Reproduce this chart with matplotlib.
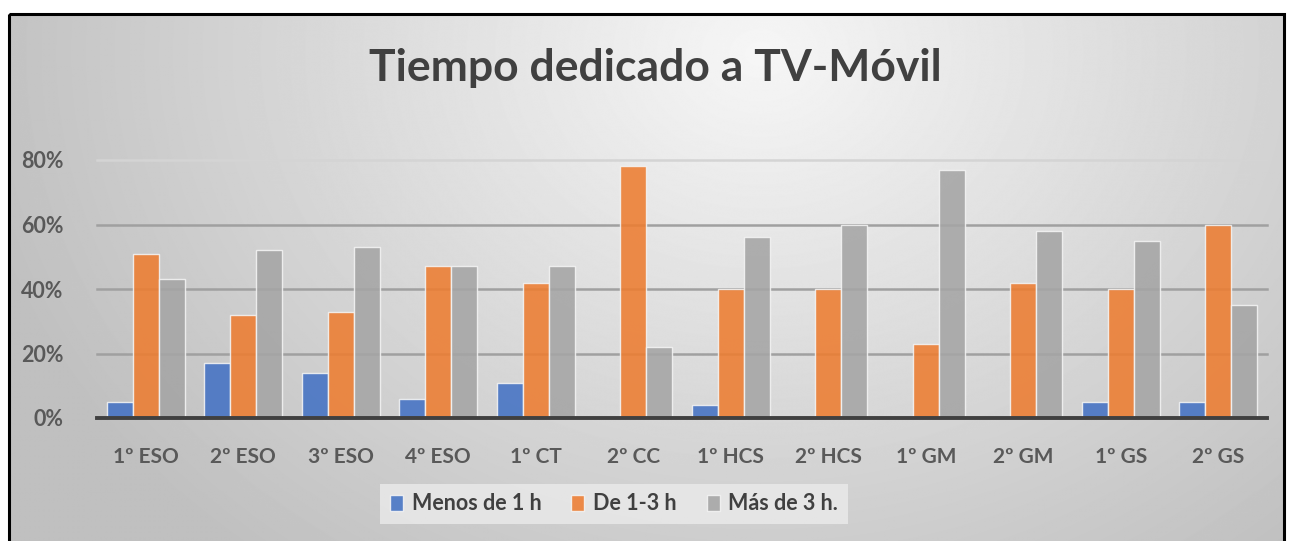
import matplotlib.pyplot as plt
import numpy as np
from matplotlib.patches import Rectangle

# data
cursos = ['1º ESO', '2º ESO', '3º ESO', '4º ESO', '1º CT', '2º CC',
          '1º HCS', '2º HCS', '1º GM', '2º GM', '1º GS', '2º GS']
menos_1h = [0.05, 0.17, 0.14, 0.06, 0.11, 0.00, 0.04, 0.00, 0.00, 0.00, 0.05, 0.05]
de_1_3h = [0.51, 0.32, 0.33, 0.47, 0.42, 0.78, 0.40, 0.40, 0.23, 0.42, 0.40, 0.60]
mas_3h = [0.43, 0.52, 0.53, 0.47, 0.47, 0.22, 0.56, 0.60, 0.77, 0.58, 0.55, 0.35]
series = ['Menos de 1 h', 'De 1-3 h', 'Más de 3 h.']
colores = ['#4472C4', '#ED7D31', '#A5A5A5']
yticks = [0, 0.2, 0.4, 0.6, 0.8]

plt.rcParams['font.family'] = ['Lato', 'DejaVu Sans']

W, H = 1291, 541
fig = plt.figure(figsize=(W / 100, H / 100), dpi=100)
fig.patch.set_facecolor('white')

# background with radial gradient and black border
bg = fig.add_axes([0, 0, 1, 1], zorder=0)
bg.axis('off')
xx, yy = np.meshgrid(np.arange(W), np.arange(H))
r = np.sqrt(((xx - 760) / 760) ** 2 + ((yy - 40) / 620) ** 2)
shade = np.clip(0.965 - 0.2 * r, 0.75, 1.0)
bg.imshow(shade, cmap='gray', vmin=0, vmax=1, extent=(9, 1284, 545, 14),
          aspect='auto', interpolation='bilinear')
bg.add_patch(Rectangle((9, 14), 1275, 540, fill=False, edgecolor='black', lw=2.2))
bg.set_xlim(0, W)
bg.set_ylim(H, 0)

ax = fig.add_axes([97 / W, 1 - 418 / H, 1170 / W, 258 / H], zorder=1)
ax.patch.set_alpha(0)

x = np.arange(len(cursos))
w = 0.268
for i, (vals, col, lab) in enumerate(zip([menos_1h, de_1_3h, mas_3h], colores, series)):
    ax.bar(x + (i - 1) * w, vals, width=w, color=col, alpha=0.88,
           edgecolor='#f4f4f4', linewidth=1.0, label=lab, zorder=3)

ax.set_xlim(-0.5, len(cursos) - 0.5)
ax.set_ylim(0, 0.8)
ax.set_yticks(yticks)
ax.set_yticklabels([f'{int(round(v * 100))}%' for v in yticks])
ax.set_xticks(x)
ax.set_xticklabels(cursos)
ax.tick_params(length=0, labelcolor='#595959')
ax.tick_params(axis='y', pad=24, labelsize=15.5)
ax.tick_params(axis='x', pad=21, labelsize=15)
for lbl in ax.get_xticklabels() + ax.get_yticklabels():
    lbl.set_fontweight('bold')

for v in yticks[1:]:
    ax.axhline(v, color='#a0a0a0' if v < 0.8 else '#d4d4d4', lw=1.8, zorder=1, clip_on=False)
for s in ['top', 'right', 'left']:
    ax.spines[s].set_visible(False)
ax.spines['bottom'].set_color('#404040')
ax.spines['bottom'].set_linewidth(2.8)
ax.spines['bottom'].set_zorder(4)

fig.text(655 / W, 1 - 68 / H, 'Tiempo dedicado a TV-Móvil', ha='center', va='center',
         fontsize=32, fontweight='bold', color='#404040')

leg = fig.legend(loc='center', bbox_to_anchor=(614 / W, 1 - 504 / H), ncol=3,
                 frameon=True, fancybox=False, handlelength=0.6, handleheight=0.8,
                 handletextpad=0.4, columnspacing=1.4, borderpad=0.45,
                 prop={'weight': 'bold', 'size': 15.5})
leg.get_frame().set_facecolor('#e9e9e9')
leg.get_frame().set_edgecolor('none')
leg.get_frame().set_alpha(0.85)
for t in leg.get_texts():
    t.set_color('#404040')

fig.savefig('out.png', dpi=100)
